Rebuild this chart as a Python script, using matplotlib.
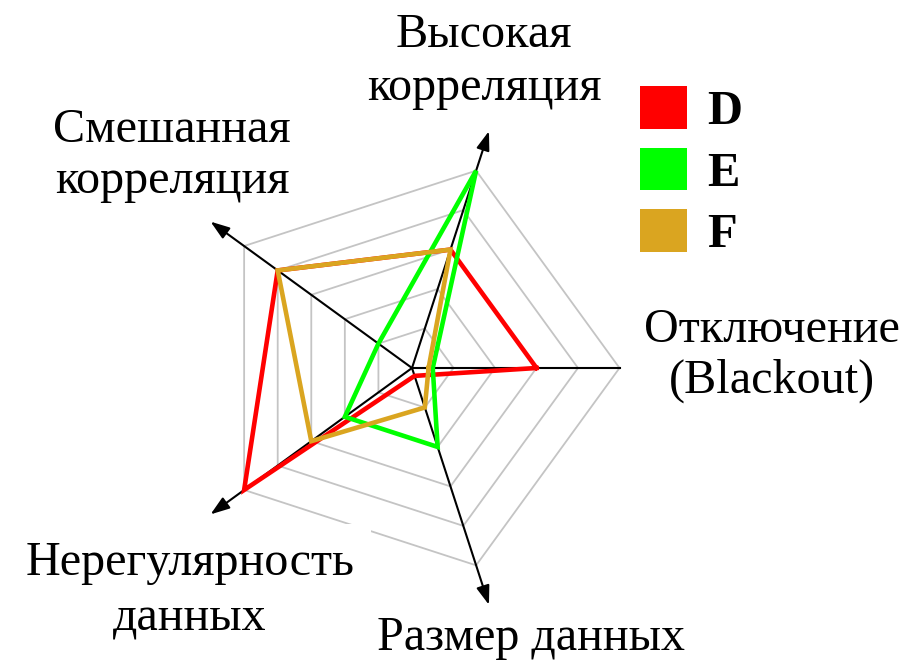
import numpy as np
import matplotlib
matplotlib.use("Agg")
import matplotlib.pyplot as plt
from matplotlib.patches import Patch
from matplotlib.font_manager import FontProperties

plt.rcParams["font.family"] = ["Liberation Serif", "DejaVu Serif"]

# ---- data ----
axes_labels = [["Отключение", "(Blackout)"], ["Высокая", "корреляция"], ["Смешанная", "корреляция"],
               ["Нерегулярность", "данных"], ["Размер данных"]]
angles_deg = [0, 72, 144, 216, 288]
series_names = ["D", "E", "F"]
values_D = [3, 3, 4, 5, 0.2]
values_E = [0.5, 5, 1, 2, 2]
values_F = [0.4, 3, 4, 3, 1]
series_colors = ["#ff0000", "#00ff00", "#daa520"]
grid_levels = [1, 2, 3, 4, 5]

W, H, DPI = 923, 663, 100
CX, CY, UNIT = 412, 368, 41.5   # centre (px from top-left) and px per unit

fig = plt.figure(figsize=(W / DPI, H / DPI), dpi=DPI)
ax = fig.add_axes([0, 0, 1, 1])
ax.set_xlim(-CX / UNIT, (W - CX) / UNIT)
ax.set_ylim(-(H - CY) / UNIT, CY / UNIT)
ax.axis("off")

th = np.deg2rad(angles_deg)
ct, st = np.cos(th), np.sin(th)

# grid pentagons
for lv in grid_levels:
    xs = np.append(lv * ct, lv * ct[0])
    ys = np.append(lv * st, lv * st[0])
    ax.plot(xs, ys, color="#c4c4c4", lw=1.3, zorder=1, solid_joinstyle="miter")

# axes lines with arrows
rmax = grid_levels[-1]
for i in range(len(angles_deg)):
    if i == 0:
        ax.plot([0, rmax * ct[i]], [0, rmax * st[i]], color="black", lw=1.5, zorder=3)
    else:
        tip = 6.0
        ax.annotate("", xy=(tip * ct[i], tip * st[i]), xytext=(0, 0),
                    arrowprops=dict(arrowstyle="-|>,head_length=1.15,head_width=0.4",
                                    color="black", lw=1.5, shrinkA=0, shrinkB=0),
                    zorder=3)

# series
for vals, col in zip([values_D, values_E, values_F], series_colors):
    v = np.array(vals)
    xs = np.append(v * ct, v[0] * ct[0])
    ys = np.append(v * st, v[0] * st[0])
    ax.plot(xs, ys, color=col, lw=3.3, zorder=4, solid_joinstyle="miter")

# labels: centre x and baselines (px from top)
label_x = [772, 484, 172, 190, 531]
label_baselines = [[342, 393], [47, 100], [142, 193], [575, 630], [650]]
lab_font = FontProperties(family=["Liberation Serif", "DejaVu Serif"], size=34.7)
for lines, px, bls in zip(axes_labels, label_x, label_baselines):
    for j, (ln, by) in enumerate(zip(lines, bls)):
        kw = {}
        if ln == "Нерегулярность":
            kw["bbox"] = dict(boxstyle="square,pad=0.35", fc="white", ec="none")
        fig.text(px / W, 1 - by / H, ln, ha="center", va="baseline",
                 zorder=2, fontproperties=lab_font, **kw)

# legend
handles = [Patch(facecolor=c, edgecolor="none", label=n) for n, c in zip(series_names, series_colors)]
fig.legend(handles=handles, loc="upper left", bbox_to_anchor=(640 / W, 1 - 86 / H),
           frameon=False, prop=FontProperties(family="Liberation Serif", weight="bold", size=35),
           handlelength=0.97, handleheight=0.97, handletextpad=0.42, labelspacing=0.28,
           borderpad=0, borderaxespad=0)

fig.savefig("out.png", dpi=DPI)
